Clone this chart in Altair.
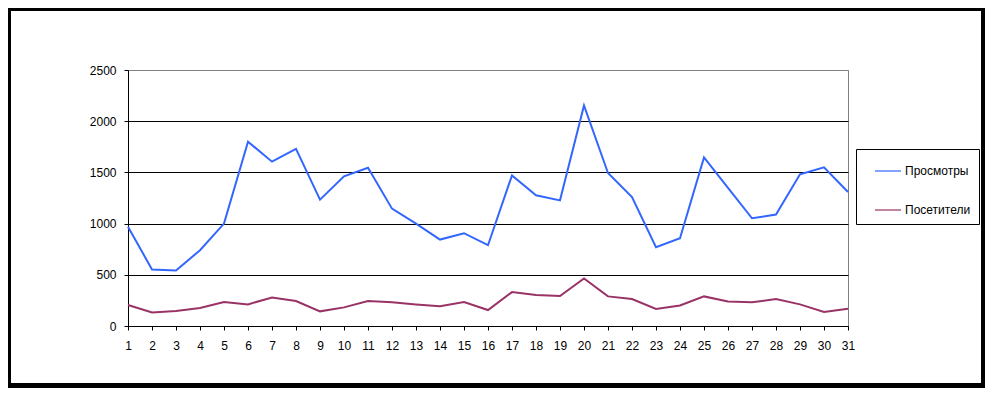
import altair as alt
import pandas as pd

days = list(range(1, 32))
views = [970, 552, 542, 740, 1000, 1800, 1605, 1730, 1234, 1461, 1545, 1146, 1000, 844, 906,
         789, 1471, 1276, 1227, 2153, 1494, 1260, 770, 857, 1646, 1350, 1052, 1088, 1481, 1549, 1308]
visitors = [205, 133, 146, 175, 234, 211, 279, 244, 143, 182, 244, 231, 211, 192, 234,
            156, 331, 302, 292, 464, 289, 263, 166, 201, 289, 240, 231, 263, 211, 136, 169]
series_names = ["Просмотры", "Посетители"]
series_colors = ["#3366FF", "#993366"]
y_ticks = [0, 500, 1000, 1500, 2000, 2500]

df = pd.DataFrame({
    "day": days * 2,
    "value": views + visitors,
    "series": [series_names[0]] * len(days) + [series_names[1]] * len(days),
})

FONT = "Liberation Sans"

lines = alt.Chart(df).mark_line(strokeWidth=2).encode(
    x=alt.X("day:Q", scale=alt.Scale(domain=[1, 31], nice=False, zero=False),
            axis=alt.Axis(values=days, title=None, grid=False, domainColor="black",
                          tickColor="black", tickSize=4, labelPadding=10,
                          labelFontSize=12, labelColor="black", labelFont=FONT,
                          labelFlush=False, labelOverlap=False, format="d")),
    y=alt.Y("value:Q", scale=alt.Scale(domain=[0, 2500], nice=False),
            axis=alt.Axis(values=y_ticks, title=None, grid=True,
                          gridColor={"condition": {"test": "datum.value === 2500", "value": "#808080"},
                                     "value": "black"},
                          gridWidth=1, domainColor="black", tickColor="black", tickSize=4,
                          labelPadding=8, labelFontSize=12, labelColor="black", labelFont=FONT,
                          format="d")),
    color=alt.Color("series:N", sort=series_names,
                    scale=alt.Scale(domain=series_names, range=series_colors),
                    legend=alt.Legend(title=None, orient="none", legendX=728, legendY=79,
                                      direction="vertical", symbolType="stroke",
                                      symbolSize=676, symbolStrokeWidth=1.2,
                                      symbolOffset=10,
                                      labelFontSize=12, labelFont=FONT, labelColor="black",
                                      labelOffset=3, rowPadding=19, padding=8,
                                      strokeColor="black", fillColor="white",
                                      labelLimit=200)),
)

one = alt.Data(values=[{"a": 1}])
def strip(x, x2, y, y2):
    return alt.Chart(one).mark_rect(color="black").encode(
        x=alt.value(x), x2=alt.value(x2), y=alt.value(y), y2=alt.value(y2))

borders = [
    strip(-120, -117, -62, 318),
    strip(-120, 857, -62, -59),
    strip(853, 857, -62, 318),
    strip(-120, 857, 313, 318),
]

chart = alt.layer(lines, *borders).properties(
    width=720, height=256,
    autosize=alt.AutoSizeParams(type="none"),
    padding={"left": 120, "top": 62, "right": 137, "bottom": 62},
    background="white",
).configure_view(stroke="#808080", strokeWidth=1)

chart.save("out.html", embed_options={"renderer": "svg", "actions": False})
